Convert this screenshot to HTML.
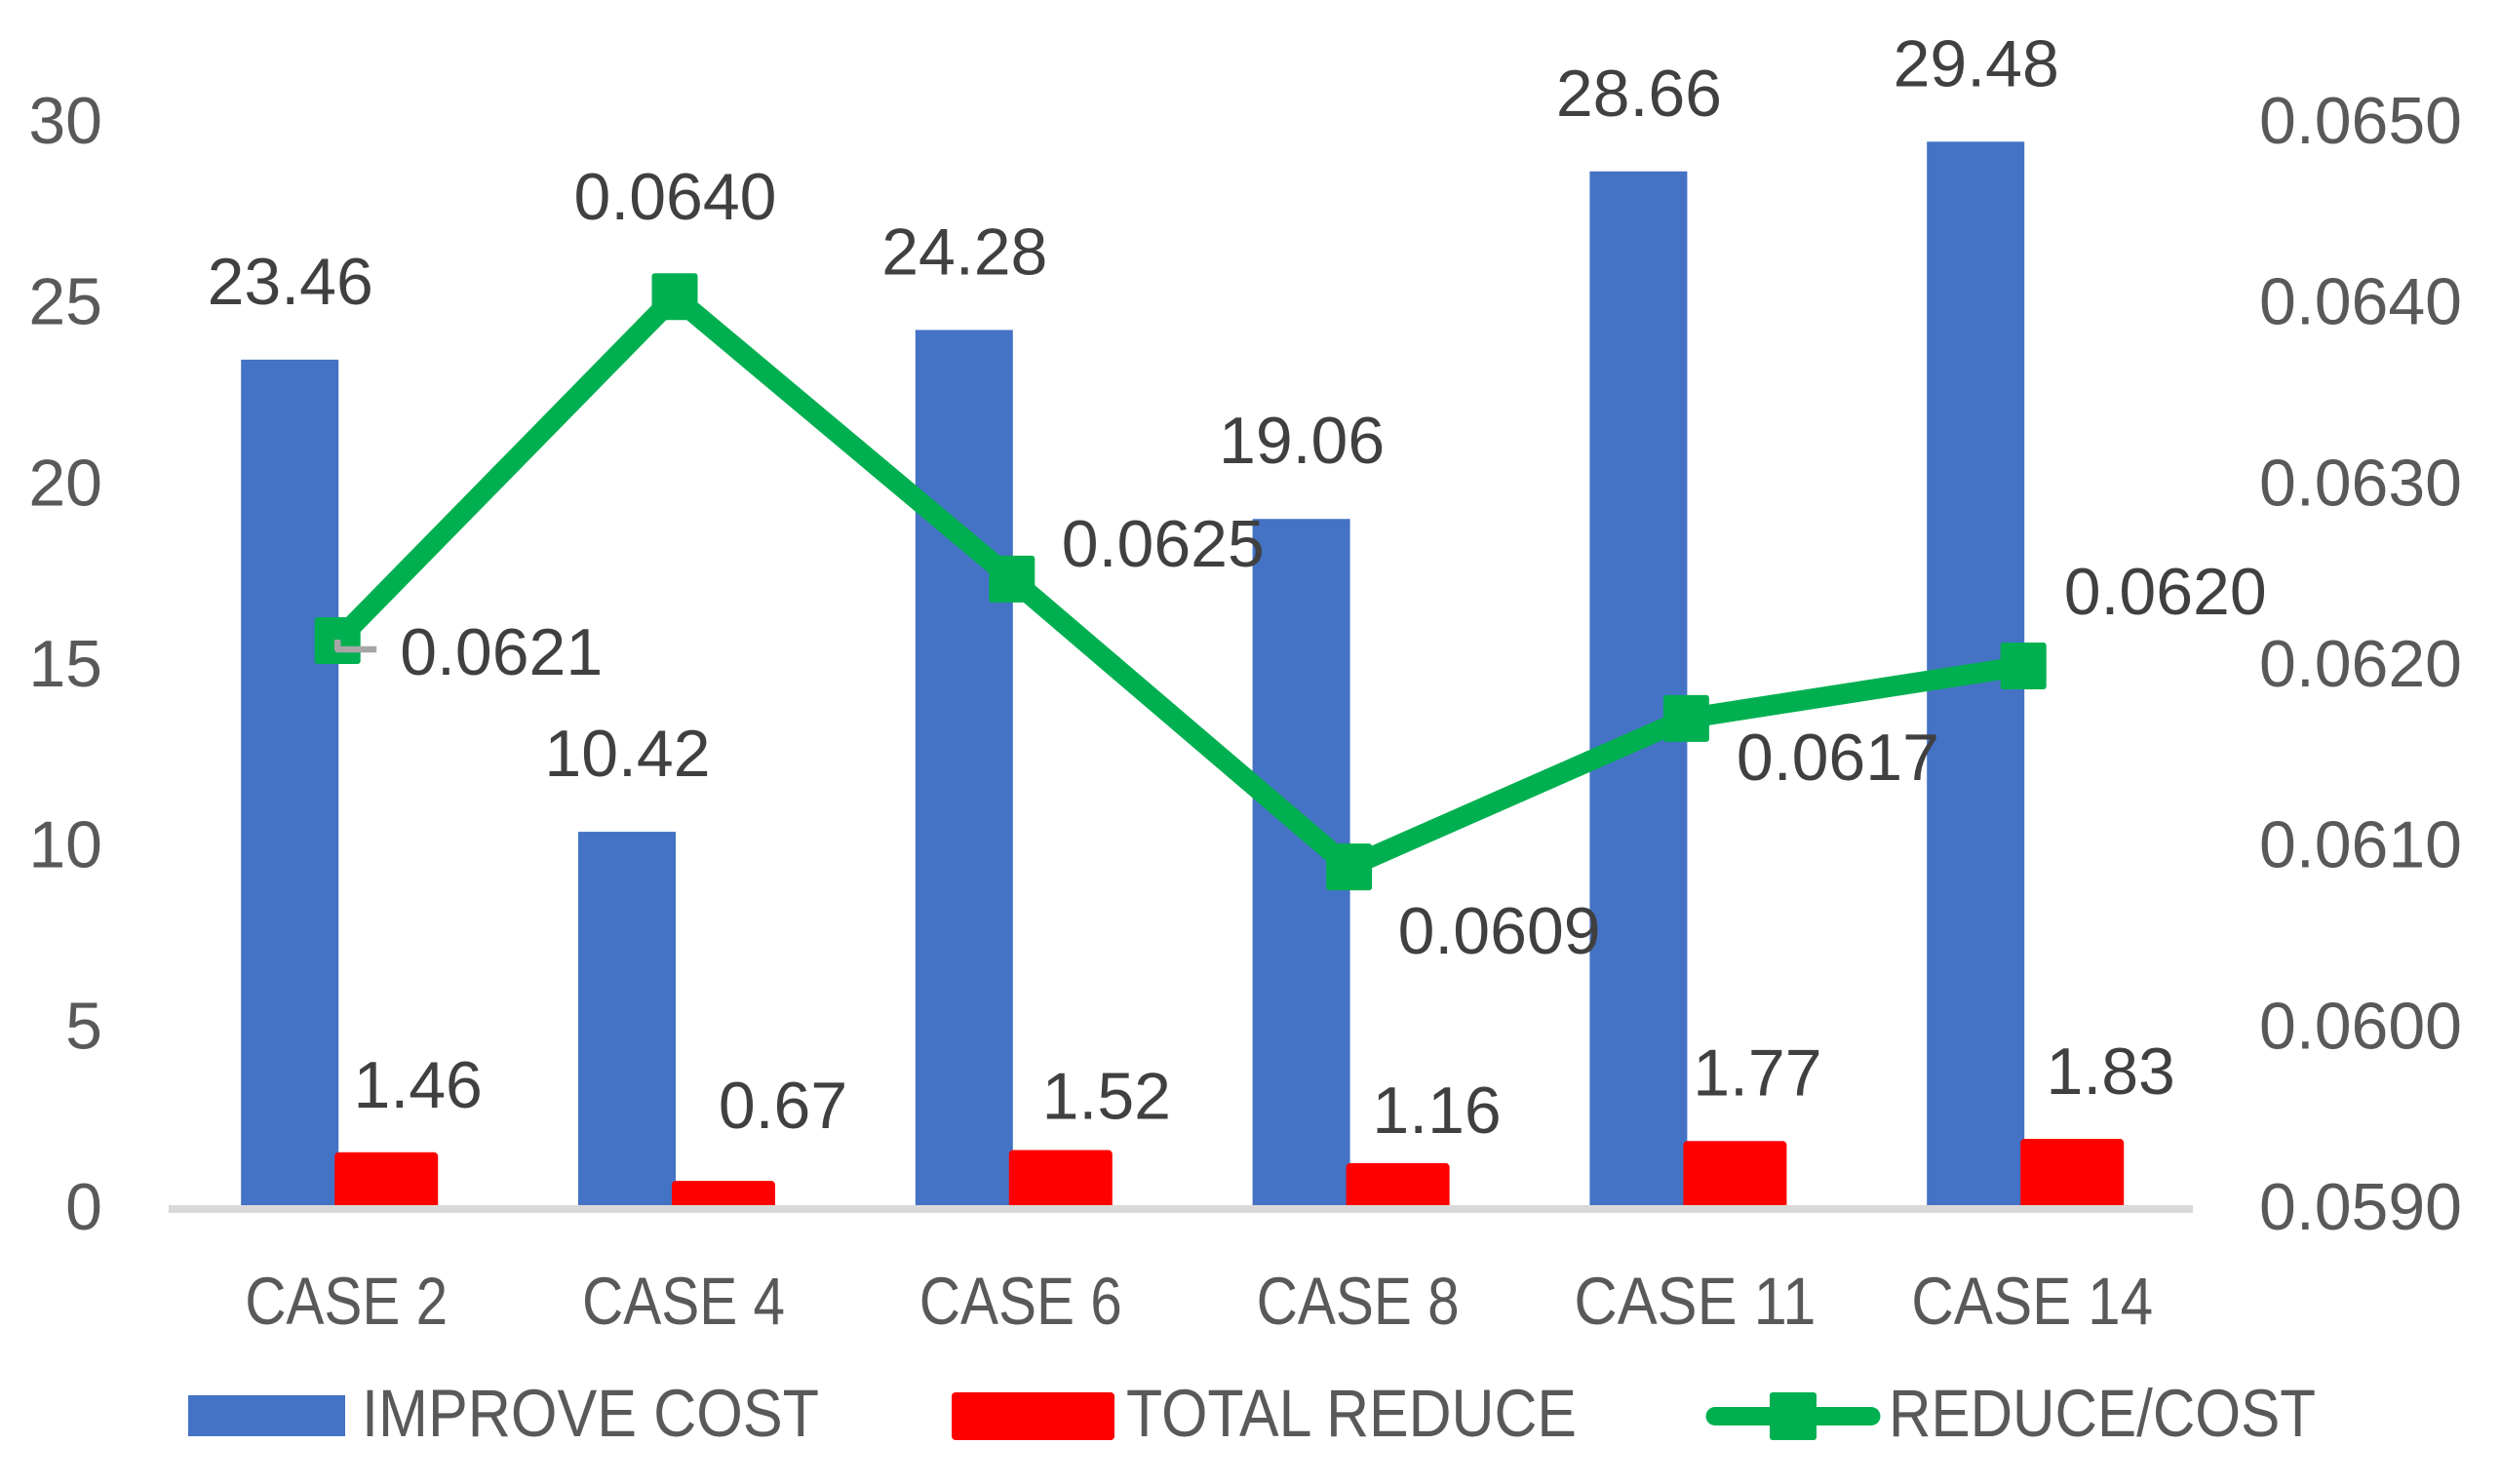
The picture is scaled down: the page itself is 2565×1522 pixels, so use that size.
<!DOCTYPE html>
<html lang="en">
<head>
<meta charset="utf-8">
<title>Improve cost, total reduce and reduce/cost by case</title>
<style>
  html, body { margin: 0; padding: 0; background: #ffffff; }
  body { width: 2565px; height: 1522px; overflow: hidden; }
  svg { display: block; }
  text { font-family: "Liberation Sans", Arial, sans-serif; font-size: 68px; }
  .tick { fill: #595959; }
  .cat { fill: #595959; font-size: 69px; }
  .val { fill: #404040; }
  .leg { fill: #595959; font-size: 69px; }
</style>
</head>
<body>
<svg id="chart" xmlns="http://www.w3.org/2000/svg" width="2565" height="1522" viewBox="0 0 2565 1522">
  <rect x="0" y="0" width="2565" height="1522" fill="#ffffff"/>
  <g id="bars"></g>
  <rect x="173" y="1236" width="2076" height="8" fill="#d9d9d9"/>
  <g id="line"></g>
  <g id="labels"></g>
  <g>
    <g>
      <rect x="193" y="1431" width="161" height="42" fill="#4472c4"/>
      <text class="leg" x="371" y="1473" textLength="469" lengthAdjust="spacingAndGlyphs">IMPROVE COST</text>
    </g>
    <g>
      <rect x="976" y="1428" width="167" height="49" rx="4" fill="#ff0000"/>
      <text class="leg" x="1155" y="1473" textLength="462" lengthAdjust="spacingAndGlyphs">TOTAL REDUCE</text>
    </g>
    <g>
      <line x1="1759" y1="1452.5" x2="1919" y2="1452.5" stroke="#00b050" stroke-width="19" stroke-linecap="round"/>
      <rect x="1815" y="1428" width="48" height="49" rx="3" fill="#00b050"/>
      <text class="leg" x="1937" y="1473" textLength="438" lengthAdjust="spacingAndGlyphs">REDUCE/COST</text>
    </g>
  </g>
</svg>
<script>
// ---- chart data ----
const categories = ['CASE 2', 'CASE 4', 'CASE 6', 'CASE 8', 'CASE 11', 'CASE 14'];
const improveCost = [23.46, 10.42, 24.28, 19.06, 28.66, 29.48];
const totalReduce = [1.46, 0.67, 1.52, 1.16, 1.77, 1.83];
const reduceOverCost = [0.06214, 0.06404, 0.06248, 0.06089, 0.06171, 0.06200];
const leftTicks = [0, 5, 10, 15, 20, 25, 30];
const rightTicks = [0.059, 0.060, 0.061, 0.062, 0.063, 0.064, 0.065];

// ---- hand-placed label nudges (layout, relative to each mark) ----
const reduceLabelDx = [82.5, 111, 97, 90, 73, 89.5];
const reduceLabelDy = [-50, -58, -36, -35, -51, -50];
const ratioLabelDx = [168, 0.5, 155, 154, 155.5, 145.5];
const ratioLabelDy = [35, -79, -13, 89, 63, -53];

// ---- axis functions ----
const NS = 'http://www.w3.org/2000/svg';
const plotLeft = 173.3, bandWidth = 345.8, baseY = 1240, plotHeight = 1114;
function xCenter(i) { return plotLeft + bandWidth * (i + 0.5); }
function yLeft(v) { return baseY - (v - 0) / (30 - 0) * plotHeight; }
function yRight(v) { return baseY - (v - 0.059) / (0.065 - 0.059) * plotHeight; }

function make(tag, attrs, parent, content) {
  const node = document.createElementNS(NS, tag);
  for (const k in attrs) node.setAttribute(k, attrs[k]);
  if (content !== undefined) node.textContent = content;
  parent.appendChild(node);
  return node;
}

const barsLayer = document.getElementById('bars');
const lineLayer = document.getElementById('line');
const labelLayer = document.getElementById('labels');

// bars
categories.forEach(function (cat, i) {
  const c = xCenter(i);
  const blue = make('rect', { x: c - 99, y: yLeft(improveCost[i]), width: 100, height: baseY - yLeft(improveCost[i]), fill: '#4472c4' }, barsLayer);
  
  
});
categories.forEach(function (cat, i) {
  const c = xCenter(i);
  const red = make('rect', { x: c + 1, y: yLeft(totalReduce[i]), width: 98, height: baseY - yLeft(totalReduce[i]), fill: '#ff0000', stroke: '#ff0000', 'stroke-width': 8, 'stroke-linejoin': 'round' }, barsLayer);
  
  
});

// line series
const linePoints = reduceOverCost.map(function (v, i) { return xCenter(i) + ',' + yRight(v); }).join(' ');
const polyline = make('polyline', { points: linePoints, fill: 'none', stroke: '#00b050', 'stroke-width': 21, 'stroke-linejoin': 'round' }, lineLayer);



reduceOverCost.forEach(function (v, i) {
  const marker = make('rect', { x: xCenter(i) - 23.5, y: yRight(v) - 24, width: 47, height: 48, rx: 3, fill: '#00b050' }, lineLayer);
  
  
});

// leader line from first marker to its label
const leaderX = xCenter(0), leaderY = yRight(reduceOverCost[0]);
const leader = make('polyline', { points: leaderX + ',' + (leaderY - 1) + ' ' + leaderX + ',' + (leaderY + 9) + ' ' + (leaderX + 40) + ',' + (leaderY + 9), fill: 'none', stroke: '#a6a6a6', 'stroke-width': 6.5, 'stroke-linejoin': 'round' }, lineLayer);



// tick labels
leftTicks.forEach(function (t) {
  const label = make('text', { class: 'tick', x: 105, y: yLeft(t) + 21, 'text-anchor': 'end' }, labelLayer, String(t));
  
  
});
rightTicks.forEach(function (t) {
  const label = make('text', { class: 'tick', x: 2317, y: yRight(t) + 21 }, labelLayer, t.toFixed(4));
  
  
});

// category labels
categories.forEach(function (cat, i) {
  const len = cat.length > 6 ? 248 : 208;
  const label = make('text', { class: 'cat', x: xCenter(i) + 9, y: 1358, 'text-anchor': 'middle', textLength: len, lengthAdjust: 'spacingAndGlyphs' }, labelLayer, cat);
  
  
});

// data labels
improveCost.forEach(function (v, i) {
  const label = make('text', { class: 'val', x: xCenter(i) - 48.5, y: yLeft(v) - 57, 'text-anchor': 'middle' }, labelLayer, v.toFixed(2));
  
  
});
totalReduce.forEach(function (v, i) {
  const label = make('text', { class: 'val', x: xCenter(i) + reduceLabelDx[i], y: yLeft(v) + reduceLabelDy[i], 'text-anchor': 'middle' }, labelLayer, v.toFixed(2));
  
  
});
reduceOverCost.forEach(function (v, i) {
  const label = make('text', { class: 'val', x: xCenter(i) + ratioLabelDx[i], y: yRight(v) + ratioLabelDy[i], 'text-anchor': 'middle' }, labelLayer, v.toFixed(4));
  
  
});
</script>
</body>
</html>
